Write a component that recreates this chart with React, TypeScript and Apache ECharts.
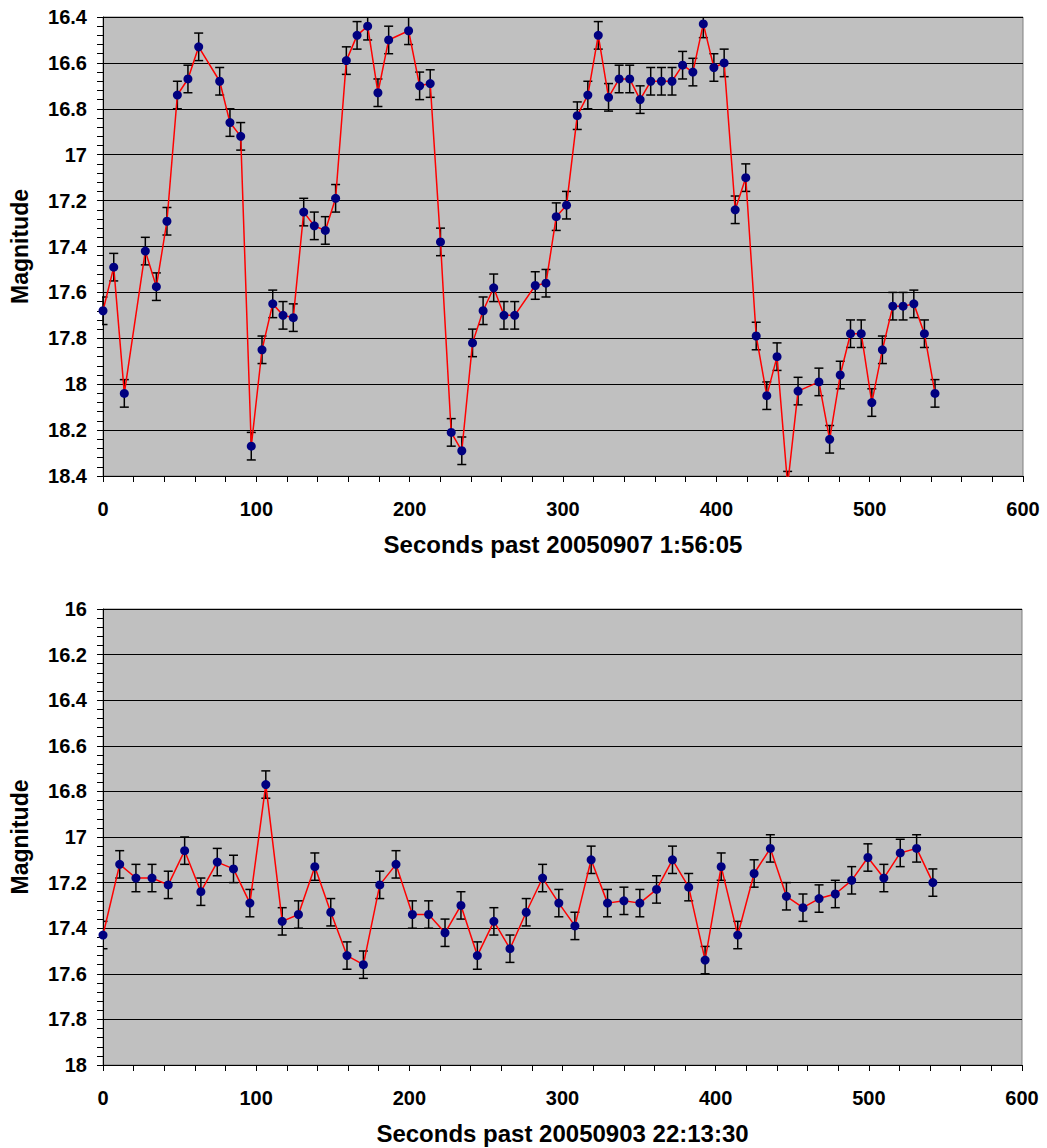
import React, { useEffect, useRef } from "react";
import * as echarts from "echarts";

// Top panel: seconds past 20050907 1:56:05
const topTimes = [
  0, 7.0, 13.9, 27.6, 34.8, 41.7, 48.5, 55.4, 62.4, 76.1,
  82.8, 89.8, 96.7, 103.7, 110.7, 117.4, 124.1, 130.9, 137.8, 145.0,
  151.7, 158.7, 165.7, 172.6, 179.3, 186.3, 199.3, 206.5, 213.4, 220.1,
  227.1, 234.0, 241.0, 247.9, 254.8, 261.5, 268.5, 281.9, 288.9, 295.6,
  302.3, 309.3, 316.2, 323.0, 329.7, 336.6, 343.5, 350.3, 357.2, 364.2,
  371.1, 378.0, 384.7, 391.5, 398.4, 405.1, 412.3, 419.2, 426.0, 432.9,
  439.6, 446.5, 453.3, 466.9, 473.9, 480.8, 487.5, 494.5, 501.4, 508.3,
  515.1, 521.8, 528.8, 535.7, 542.6,
];
const topMags = [
  17.68, 17.49, 18.04, 17.42, 17.575, 17.29, 16.74, 16.67, 16.53, 16.68,
  16.86, 16.92, 18.27, 17.85, 17.65, 17.70, 17.71, 17.25, 17.31, 17.33,
  17.19, 16.59, 16.48, 16.44, 16.73, 16.50, 16.46, 16.70, 16.69, 17.38,
  18.21, 18.29, 17.82, 17.68, 17.58, 17.70, 17.70, 17.57, 17.56, 17.27,
  17.22, 16.83, 16.74, 16.48, 16.75, 16.67, 16.67, 16.76, 16.68, 16.68,
  16.68, 16.61, 16.64, 16.43, 16.62, 16.60, 17.24, 17.10, 17.79, 18.05,
  17.88, 18.44, 18.03, 17.99, 18.24, 17.96, 17.78, 17.78, 18.08, 17.85,
  17.66, 17.66, 17.65, 17.78, 18.04,
];

// Bottom panel: seconds past 20050903 22:13:30
const bottomTimes = [
  0, 10.9, 21.5, 32.0, 42.6, 53.3, 63.9, 74.6, 85.2, 95.9,
  106.3, 117.0, 127.6, 138.3, 148.7, 159.3, 170.0, 180.7, 191.3, 202.0,
  212.6, 223.3, 233.7, 244.4, 255.2, 265.7, 276.3, 287.0, 297.6, 308.1,
  318.7, 329.4, 340.1, 350.5, 361.4, 371.8, 382.4, 393.1, 403.6, 414.4,
  425.1, 435.7, 446.2, 457.0, 467.5, 478.1, 488.8, 499.4, 509.8, 520.5,
  531.2, 541.8,
];
const bottomMags = [
  17.43, 17.12, 17.18, 17.18, 17.21, 17.06, 17.24, 17.11, 17.14, 17.29,
  16.77, 17.37, 17.34, 17.13, 17.33, 17.52, 17.56, 17.21, 17.12, 17.34,
  17.34, 17.42, 17.30, 17.52, 17.37, 17.49, 17.33, 17.18, 17.29, 17.39,
  17.10, 17.29, 17.28, 17.29, 17.23, 17.10, 17.22, 17.54, 17.13, 17.43,
  17.16, 17.05, 17.26, 17.31, 17.27, 17.25, 17.19, 17.09, 17.18, 17.07,
  17.05, 17.20,
];

const magError = 0.06;

const topXTitle = "Seconds past 20050907 1:56:05";
const bottomXTitle = "Seconds past 20050903 22:13:30";
const yTitle = "Magnitude";

const topYRange = [16.4, 18.4];
const bottomYRange = [16, 18];
const xRange = [0, 600];

const FONT = "'Liberation Sans', Arial, Helvetica, sans-serif";

function errorBarRender(params: any, api: any) {
  const x = api.value(0);
  const lo = api.coord([x, api.value(1)]);
  const hi = api.coord([x, api.value(2)]);
  const w = 4.5;
  const style = { stroke: "#000", lineWidth: 1.5 };
  return {
    type: "group",
    children: [
      { type: "line", shape: { x1: lo[0], y1: lo[1], x2: hi[0], y2: hi[1] }, style },
      { type: "line", shape: { x1: lo[0] - w, y1: lo[1], x2: lo[0] + w, y2: lo[1] }, style },
      { type: "line", shape: { x1: hi[0] - w, y1: hi[1], x2: hi[0] + w, y2: hi[1] }, style },
    ],
  };
}

function xAxisDef(gridIndex: number, title: string) {
  return {
    type: "value",
    gridIndex,
    min: xRange[0],
    max: xRange[1],
    interval: 100,
    position: "bottom",
    name: title,
    nameLocation: "middle",
    nameGap: 56,
    nameTextStyle: { fontFamily: FONT, fontWeight: "bold", fontSize: 24, color: "#000" },
    axisLine: { show: true, onZero: false, lineStyle: { color: "#000", width: 1 } },
    axisTick: { show: true, inside: false, length: 6, lineStyle: { color: "#000", width: 1 } },
    minorTick: { show: true, splitNumber: 5, length: 6, lineStyle: { color: "#000", width: 1 } },
    axisLabel: { fontFamily: FONT, fontWeight: "bold", fontSize: 20, color: "#000", margin: 23 },
    splitLine: { show: false },
  };
}

function yAxisDef(gridIndex: number, range: number[]) {
  return {
    type: "value",
    gridIndex,
    min: range[0],
    max: range[1],
    interval: 0.2,
    inverse: true,
    name: yTitle,
    nameLocation: "middle",
    nameGap: 72,
    nameRotate: 90,
    nameTextStyle: { fontFamily: FONT, fontWeight: "bold", fontSize: 23, color: "#000" },
    axisLine: { show: true, onZero: false, lineStyle: { color: "#000", width: 1 } },
    axisTick: { show: true, inside: false, length: 6, lineStyle: { color: "#000", width: 1 } },
    minorTick: { show: true, splitNumber: 5, length: 6, lineStyle: { color: "#000", width: 1 } },
    axisLabel: { fontFamily: FONT, fontWeight: "bold", fontSize: 20, color: "#000", margin: 16 },
    splitLine: { show: true, lineStyle: { color: "#000", width: 1 } },
  };
}

function seriesFor(idx: number, times: number[], mags: number[]) {
  const pts = times.map((t, i) => [t, mags[i]]);
  const bars = times.map((t, i) => [t, mags[i] - magError, mags[i] + magError]);
  return [
    {
      type: "custom",
      xAxisIndex: idx,
      yAxisIndex: idx,
      renderItem: errorBarRender,
      encode: { x: 0, y: [1, 2] },
      data: bars,
      clip: true,
      z: 2,
    },
    {
      type: "line",
      xAxisIndex: idx,
      yAxisIndex: idx,
      data: pts,
      clip: true,
      symbol: "circle",
      symbolSize: 9,
      itemStyle: { color: "#000080", borderWidth: 0 },
      lineStyle: { color: "#ff0000", width: 1.5 },
      z: 3,
    },
  ];
}

export default function App() {
  const ref = useRef<HTMLDivElement>(null);
  useEffect(() => {
    document.body.style.margin = "0";
    if (!ref.current) return;
    const chart = echarts.init(ref.current, undefined, { renderer: "svg" });
    chart.setOption({
      animation: false,
      backgroundColor: "#ffffff",
      textStyle: { fontFamily: FONT },
      grid: [
        {
          left: 101, top: 17, width: 922, height: 459,
          show: true, backgroundColor: "#c0c0c0", borderColor: "#808080", borderWidth: 1,
        },
        {
          left: 103, top: 609, width: 919, height: 456,
          show: true, backgroundColor: "#c0c0c0", borderColor: "#808080", borderWidth: 1,
        },
      ],
      xAxis: [xAxisDef(0, topXTitle), xAxisDef(1, bottomXTitle)],
      yAxis: [yAxisDef(0, topYRange), yAxisDef(1, bottomYRange)],
      series: [...seriesFor(0, topTimes, topMags), ...seriesFor(1, bottomTimes, bottomMags)],
    });
    return () => chart.dispose();
  }, []);
  return <div ref={ref} style={{ width: 1047, height: 1148 }} />;
}
